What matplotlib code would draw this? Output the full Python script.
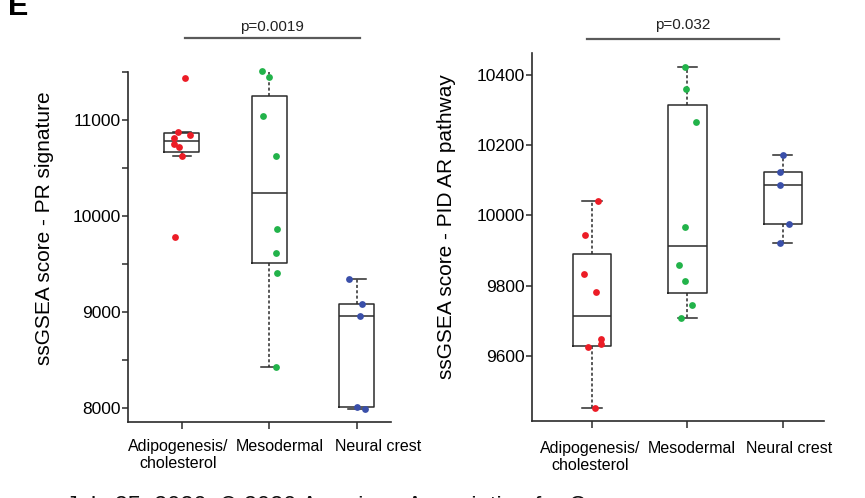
import matplotlib.pyplot as plt
from matplotlib import transforms

plt.rcParams['font.family'] = ['Liberation Sans', 'DejaVu Sans']

groups = ['Adipogenesis/\ncholesterol', 'Mesodermal', 'Neural crest']
colors = ['#ec1c26', '#22b34a', '#3a4fa9']

# ssGSEA scores, PR signature
pr_adipo = [11437, 10875, 10844, 10812, 10750, 10719, 10625, 9781]
pr_meso = [11510, 11448, 11042, 10625, 9865, 9615, 9406, 8427]
pr_neural = [9344, 9083, 8958, 8010, 7990]
# box summaries: whislo, q1, med, q3, whishi
pr_boxes = [
    [10625, 10667, 10781, 10864, 10875],
    [8427, 9510, 10240, 11250, 11510],
    [7990, 8010, 8958, 9083, 9344],
]
pr_p = 'p=0.0019'

# ssGSEA scores, PID AR pathway
ar_adipo = [10040, 9943, 9833, 9782, 9648, 9634, 9625, 9452]
ar_meso = [10423, 10361, 10267, 9967, 9858, 9812, 9744, 9709]
ar_neural = [10171, 10125, 10087, 9975, 9922]
ar_boxes = [
    [9452, 9629, 9714, 9889, 10040],
    [9709, 9779, 9914, 10314, 10423],
    [9922, 9975, 10088, 10125, 10171],
]
ar_p = 'p=0.032'

# horizontal jitter of the dots
pr_jit = [
    [0.03, -0.05, 0.09, -0.09, -0.09, -0.03, 0.0, -0.08],
    [-0.08, -0.01, -0.07, 0.07, 0.09, 0.08, 0.09, 0.07],
    [-0.09, 0.06, 0.03, 0.0, 0.09],
]
ar_jit = [
    [0.06, -0.07, -0.08, 0.04, 0.09, 0.09, -0.04, 0.03],
    [-0.03, -0.02, 0.09, -0.03, -0.09, -0.03, 0.05, -0.07],
    [0.0, -0.03, -0.03, 0.06, -0.03],
]

line_col = '#2b2b2b'
W, H = 865, 498


def panel(ax, data, boxes, jit, ylim, xlim, lab_x, lab_y):
    stats = []
    for b in boxes:
        stats.append(dict(whislo=b[0], q1=b[1], med=b[2], q3=b[3],
                          whishi=b[4], fliers=[]))
    ax.bxp(stats, positions=[1, 2, 3], widths=0.4, capwidths=0.2,
           showfliers=False,
           boxprops=dict(color=line_col, linewidth=1.1),
           medianprops=dict(color=line_col, linewidth=1.1),
           whiskerprops=dict(color=line_col, linewidth=1.1,
                             linestyle=(0, (2, 1.5))),
           capprops=dict(color=line_col, linewidth=1.1))
    for i, vals in enumerate(data):
        xs = [i + 1 + j for j in jit[i]]
        ax.scatter(xs, vals, s=24, color=colors[i], zorder=3,
                   linewidths=0, clip_on=False)
    ax.set_xlim(*xlim)
    ax.set_ylim(*ylim)
    ax.set_xticks([1, 2, 3])
    ax.set_xticklabels([])
    # group names sit a little off their ticks
    tr = transforms.blended_transform_factory(ax.transData, ax.transAxes)
    for g, x in zip(groups, lab_x):
        ax.text(x, lab_y, g, transform=tr, ha='center', va='top',
                fontsize=11.5, multialignment='center')
    for s in ['top', 'right']:
        ax.spines[s].set_visible(False)
    for s in ['left', 'bottom']:
        ax.spines[s].set_color(line_col)
        ax.spines[s].set_linewidth(1.2)
    ax.tick_params(axis='y', length=4, width=1.1, pad=1, labelsize=12.5,
                   color=line_col)
    ax.tick_params(axis='x', length=5, width=1.1, color=line_col)


def pbar(ax, x0, x1, yl, yt, txt):
    tr = transforms.blended_transform_factory(ax.transData, ax.transAxes)
    ax.plot([x0, x1], [yl, yl], color='#5a5a5a', lw=1.6,
            transform=tr, clip_on=False)
    ax.text((x0 + x1) / 2, yt, txt, transform=tr, ha='center',
            va='center', fontsize=11, color='#222222')


fig = plt.figure(figsize=(8.65, 4.98), dpi=100)

ax1 = fig.add_axes([128 / W, 76 / H, 263 / W, 350 / H])
panel(ax1, [pr_adipo, pr_meso, pr_neural], pr_boxes, pr_jit,
      (7854, 11500), (0.383, 3.39), [0.954, 2.12, 3.24], -17 / 350)
ax1.set_yticks(range(8000, 11501, 500))
ax1.set_yticklabels(['8000', '', '9000', '', '10000', '', '11000', ''])
pbar(ax1, 1.03, 3.03, 1.097, 1.129, pr_p)

ax2 = fig.add_axes([532 / W, 77 / H, 292 / W, 368 / H])
panel(ax2, [ar_adipo, ar_meso, ar_neural], ar_boxes, ar_jit,
      (9414, 10463), (0.372, 3.43), [0.98, 2.05, 3.07], -20 / 368)
ax2.set_yticks([9600, 9800, 10000, 10200, 10400])
pbar(ax2, 0.95, 2.96, 1.038, 1.076, ar_p)

fig.text(45 / W, 1 - 228 / H, 'ssGSEA score - PR signature', rotation=90,
         ha='center', va='center', fontsize=15)
fig.text(447 / W, 1 - 227 / H, 'ssGSEA score - PID AR pathway', rotation=90,
         ha='center', va='center', fontsize=15)

fig.text(8 / W, 1 - 15 / H, 'E', fontsize=22, fontweight='bold',
         ha='left', va='baseline')
fig.text(66 / W, -15 / H, 'July 25, 2020. \u00a9 2020 American Association for C',
         fontsize=17, ha='left', va='baseline', color='#111111')

fig.savefig('out.png', dpi=100)
